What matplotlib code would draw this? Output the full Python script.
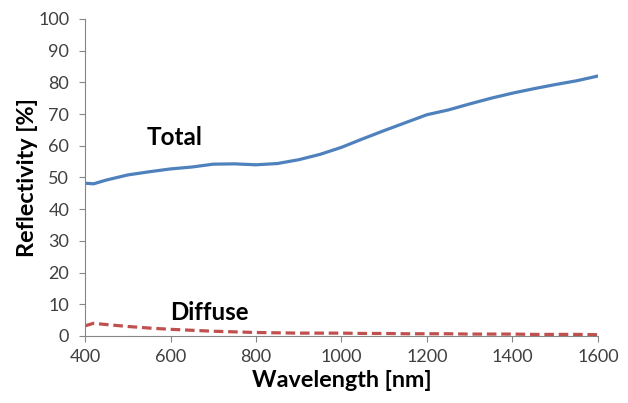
import matplotlib.pyplot as plt

# Reflectivity spectra
wavelength = [400, 420, 450, 500, 550, 600, 650, 700, 750, 800, 850, 900, 950,
              1000, 1050, 1100, 1150, 1200, 1250, 1300, 1350, 1400, 1450, 1500,
              1550, 1600]
total = [48.2, 48.0, 49.2, 50.8, 51.8, 52.7, 53.3, 54.2, 54.3, 54.0, 54.4, 55.6,
         57.3, 59.5, 62.2, 64.8, 67.3, 69.8, 71.3, 73.2, 75.0, 76.6, 78.0, 79.3,
         80.5, 82.0]
diffuse = [3.2, 4.0, 3.6, 3.0, 2.5, 2.1, 1.8, 1.5, 1.3, 1.1, 1.0, 0.9, 0.9,
           0.9, 0.8, 0.8, 0.7, 0.7, 0.7, 0.6, 0.6, 0.6, 0.5, 0.5, 0.5, 0.4]

x_ticks = [400, 600, 800, 1000, 1200, 1400, 1600]
y_ticks = list(range(0, 101, 10))

plt.rcParams['font.family'] = ['Lato', 'DejaVu Sans']

fig = plt.figure(figsize=(6.28, 4.03), dpi=100)
ax = fig.add_axes([0.1354, 0.1663, 0.8166, 0.7866])

ax.plot(wavelength, total, color='#4F81BD', linewidth=2.3)
ax.plot(wavelength, diffuse, color='#C0504D', linewidth=2.3, linestyle=(0, (3, 1.5)))

ax.text(610, 62.5, 'Total', fontsize=17.5, fontweight='bold', ha='center', va='center')
ax.text(690, 7.3, 'Diffuse', fontsize=17.3, fontweight='bold', ha='center', va='center')

ax.set_xlim(400, 1600)
ax.set_ylim(0, 100)
ax.set_xticks(x_ticks)
ax.set_yticks(y_ticks)

for side in ['top', 'right']:
    ax.spines[side].set_visible(False)
for side in ['left', 'bottom']:
    ax.spines[side].set_color('#868686')
    ax.spines[side].set_linewidth(0.8)

ax.tick_params(direction='out', length=4.3, width=0.8, color='#868686',
               labelcolor='#404040', labelsize=13)
ax.tick_params(axis='y', pad=7)
ax.tick_params(axis='x', pad=5)

ax.set_xlabel('Wavelength [nm]', fontsize=16.8, fontweight='bold', labelpad=4)
ax.set_ylabel('Reflectivity [%]', fontsize=16.8, fontweight='bold', labelpad=0)

fig.savefig('out.png', dpi=100)
